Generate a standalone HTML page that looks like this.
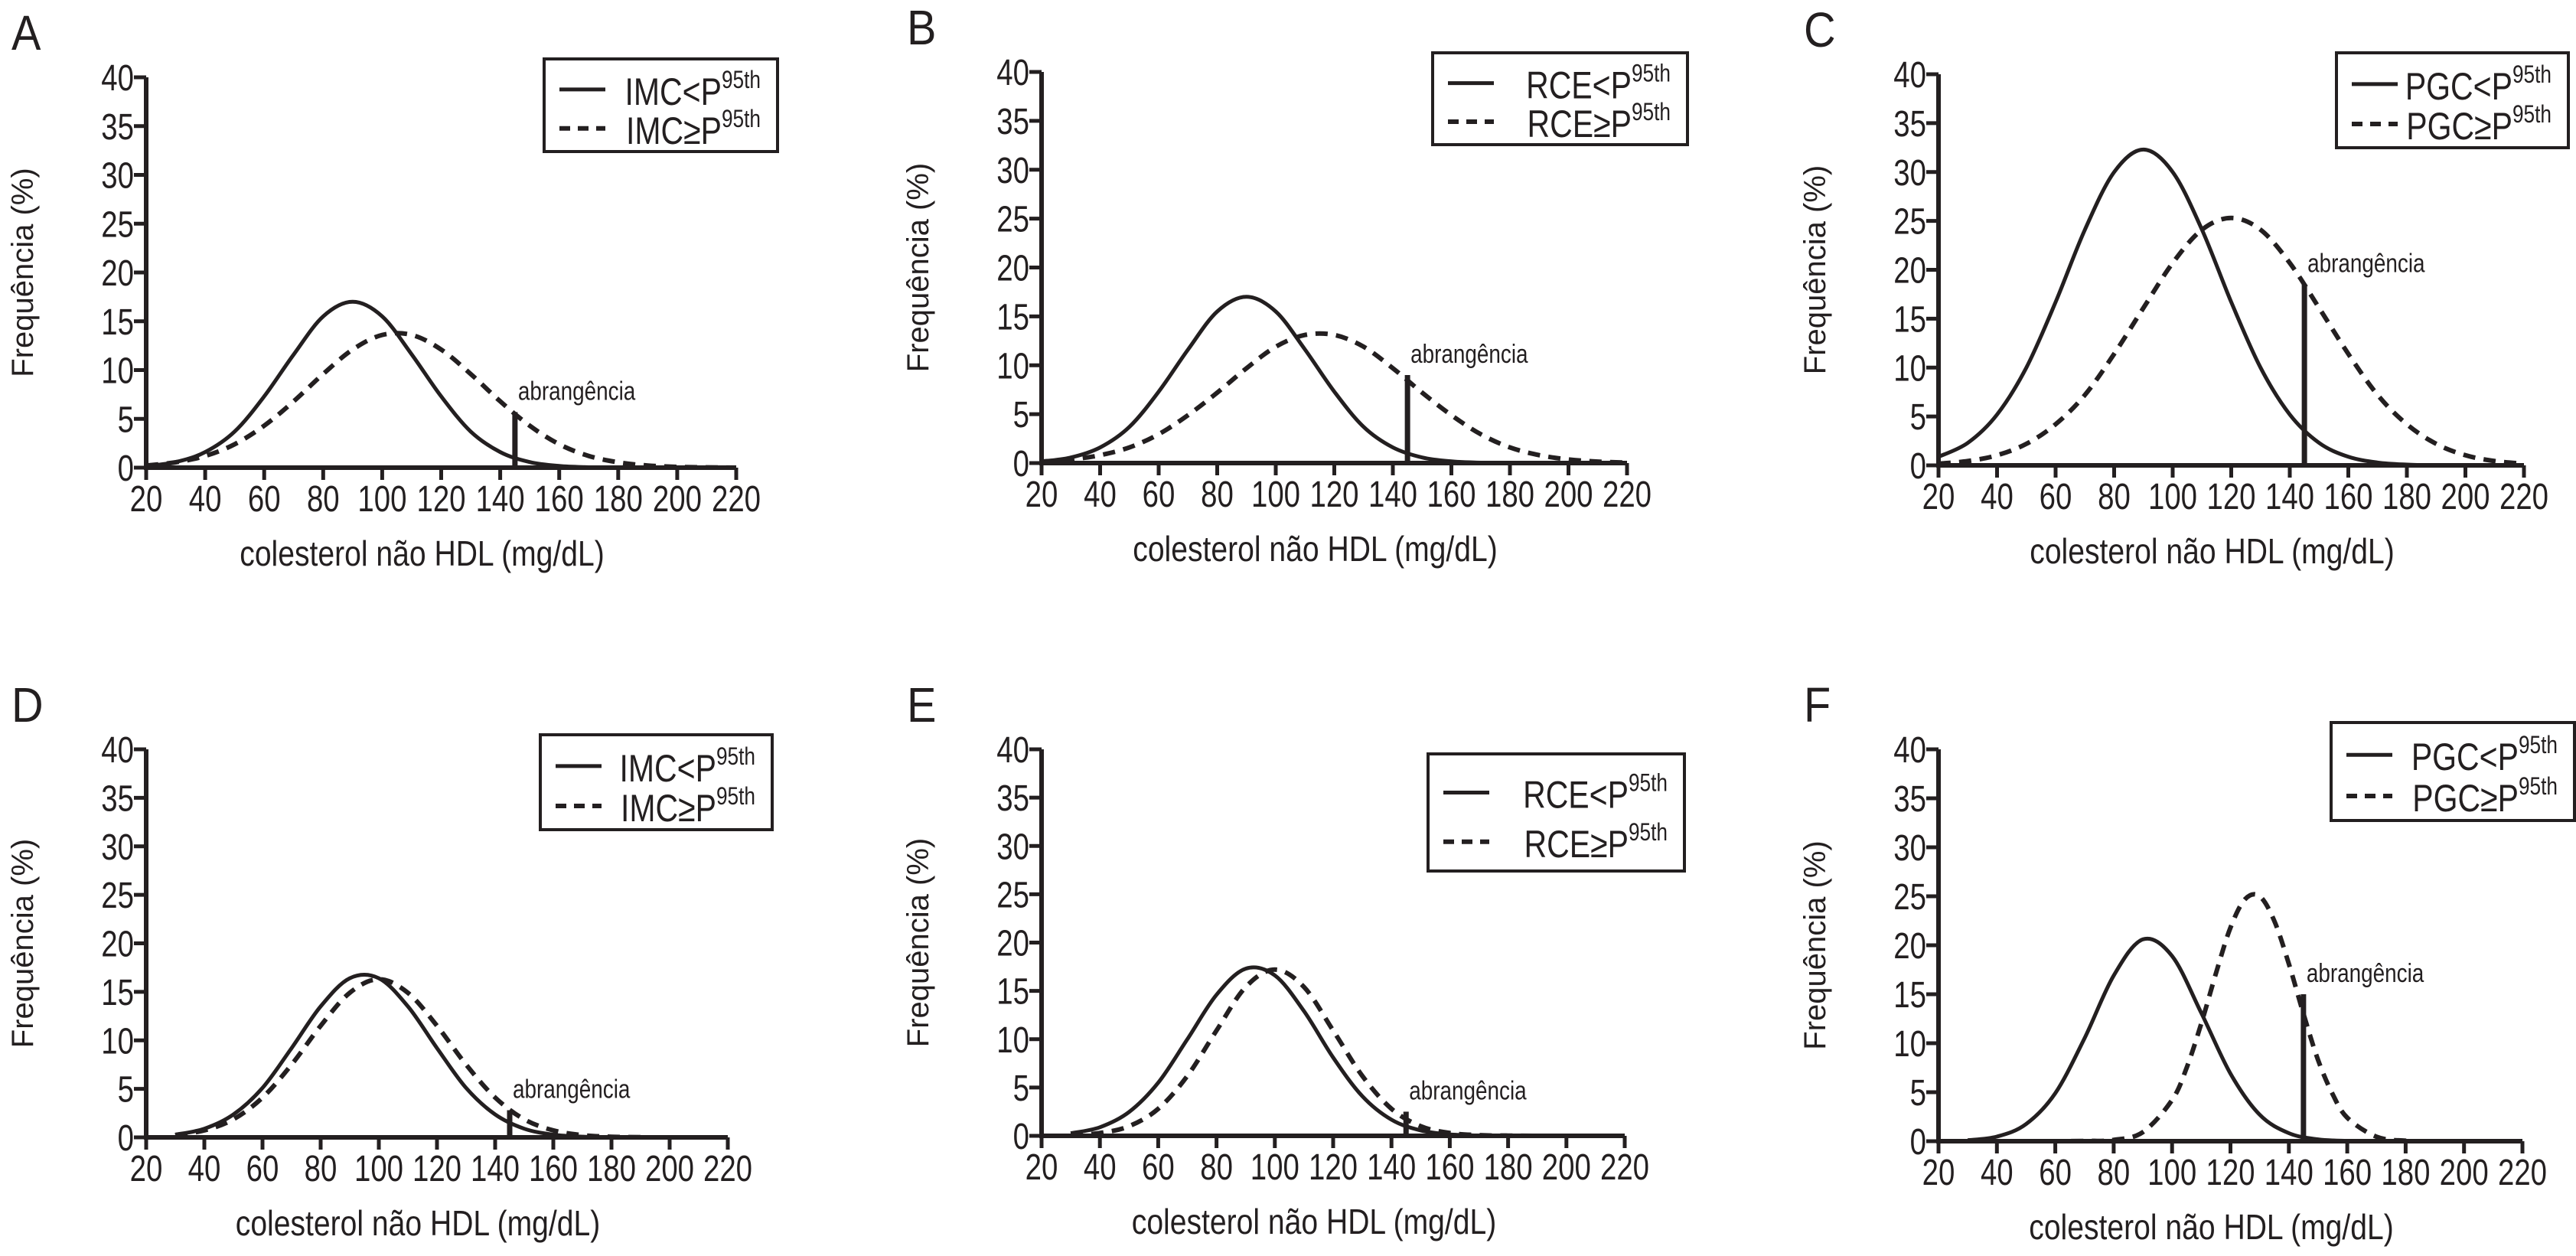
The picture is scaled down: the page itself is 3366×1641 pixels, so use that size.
<!DOCTYPE html>
<html><head><meta charset="utf-8"><style>
html,body{margin:0;padding:0;background:#fff;}
svg{display:block;}
text{font-family:"Liberation Sans",sans-serif;fill:#231f20;}
</style></head><body>
<svg id="fig" width="3366" height="1641" viewBox="0 0 3366 1641" xmlns="http://www.w3.org/2000/svg"></svg>
<script>
// ---- data ----
const xTicks = [20,40,60,80,100,120,140,160,180,200,220];
const yTicks = [0,5,10,15,20,25,30,35,40];
const stdX = [20,30,40,50,60,70,80,90,100,110,120,130,140,150,160,170,180,190,200,210,220];
const d30X = [30,40,50,60,70,80,90,100,110,120,130,140,150,160,170,180,190];

const aSolidY = [0.17,0.57,1.6,3.7,7.3,11.6,15.5,17,15.5,11.6,7.3,3.7,1.6,0.57,0.17,0.04,0,0,0,0,0];
const aDashY  = [0.22,0.55,1.2,2.4,4.3,6.8,9.6,12.1,13.6,13.6,12.1,9.6,6.8,4.3,2.4,1.2,0.55,0.22,0.08,0.03,0];
const bSolidY = [0.17,0.57,1.6,3.7,7.3,11.6,15.5,17,15.5,11.6,7.3,3.7,1.6,0.57,0.17,0.04,0,0,0,0,0];
const bDashY  = [0.15,0.37,0.81,1.6,2.95,4.9,7.2,9.7,11.9,13.1,13.1,11.9,9.7,7.2,4.9,2.95,1.6,0.81,0.37,0.15,0.05];
const cSolidY = [0.88,2.3,5.2,10.0,16.7,24.1,30.0,32.3,30.0,24.1,16.7,10.0,5.2,2.3,0.88,0.29,0.08,0,0,0,0];
const cDashY  = [0.17,0.44,1.03,2.2,4.2,7.2,11.4,16.1,20.7,24.1,25.3,24.1,20.7,16.1,11.4,7.2,4.2,2.2,1.03,0.44,0.17];
const dSolidY = [0.28,0.89,2.36,5.1,9.2,13.5,16.4,16.4,13.5,9.2,5.1,2.36,0.89,0.28,0.07,0.02,0];
const dDashY  = [0.23,0.72,1.86,4.1,7.5,11.5,14.9,16.3,14.9,11.5,7.5,4.1,1.86,0.72,0.23,0.06,0.02];
const eSolidY = [0.26,0.89,2.46,5.5,10.0,14.6,17.3,16.6,12.9,8.1,4.1,1.67,0.56,0.15,0.03,0,0];
const eDashY  = [0.07,0.29,1.0,2.8,6.2,10.9,15.4,17.2,15.4,10.9,6.2,2.8,1.0,0.29,0.07,0.02,0];
const fSolidY = [0.1,0.47,1.75,4.9,10.5,16.9,20.6,18.9,13.1,6.9,2.7,0.82,0.19,0.03,0,0,0];
const fDashX  = [30,50,70,80,90,100,105,110,115,120,125,130,135,140,145,150,155,160,170,180,190,210];
const fDashY  = [0,0,0.02,0.13,0.93,4.2,7.5,12.0,17.1,21.8,24.7,25.0,22.5,18.1,13.0,8.3,4.8,2.4,0.45,0.05,0,0];
const barX = [145,145,145,145,145,145];
const barY = [5.7,9.0,18.5,2.8,2.5,15.0];
const legendNames = [["IMC","IMC"],["RCE","RCE"],["PGC","PGC"],["IMC","IMC"],["RCE","RCE"],["PGC","PGC"]];
const panelLetters = ["A","B","C","D","E","F"];

// ---- layout ----
const panels = [
 {x0:191,x1:962,y0:611,y40:101,leg:[711,77,1016,198],solid:[stdX,aSolidY],dash:[stdX,aDashY]},
 {x0:1361,x1:2126,y0:605,y40:94,leg:[1872,69,2205,189],solid:[stdX,bSolidY],dash:[stdX,bDashY]},
 {x0:2533,x1:3298,y0:608,y40:97,leg:[3053,69,3356,193],solid:[stdX,cSolidY],dash:[stdX,cDashY]},
 {x0:191,x1:951,y0:1486,y40:979,leg:[706,960,1009,1084],solid:[d30X,dSolidY],dash:[d30X,dDashY]},
 {x0:1361,x1:2123,y0:1484,y40:979,leg:[1866,985,2201,1138],solid:[d30X,eSolidY],dash:[d30X,eDashY]},
 {x0:2533,x1:3296,y0:1491,y40:979,leg:[3046,944,3364,1072],solid:[d30X,fSolidY],dash:[fDashX,fDashY]}
];
const svg = document.getElementById('fig');
const NS = 'http://www.w3.org/2000/svg';
function mk(tag, attrs, parent){const e=document.createElementNS(NS,tag);for(const k in attrs)e.setAttribute(k,attrs[k]);(parent||svg).appendChild(e);return e;}
function cond(parent,x,y,size,anchor,str,sxf){
  const t=mk('text',{x:0,y:0,'font-size':size,'text-anchor':anchor,transform:'translate('+x+','+y+') scale('+sxf+',1)'},parent);
  t.textContent=str;
  return t;
}
function smooth(pts){
  let d='M'+pts[0][0].toFixed(1)+','+pts[0][1].toFixed(1);
  for(let i=0;i<pts.length-1;i++){
    const p0=pts[Math.max(0,i-1)],p1=pts[i],p2=pts[i+1],p3=pts[Math.min(pts.length-1,i+2)];
    const c1=[p1[0]+(p2[0]-p0[0])/6,p1[1]+(p2[1]-p0[1])/6];
    const c2=[p2[0]-(p3[0]-p1[0])/6,p2[1]-(p3[1]-p1[1])/6];
    d+=' C'+c1[0].toFixed(1)+','+c1[1].toFixed(1)+' '+c2[0].toFixed(1)+','+c2[1].toFixed(1)+' '+p2[0].toFixed(1)+','+p2[1].toFixed(1);
  }
  return d;
}
panels.forEach((p,i)=>{
  const sx=v=>p.x0+(v-20)/200*(p.x1-p.x0);
  const sy=v=>p.y0-(v/40)*(p.y0-p.y40);
  const g=mk('g',{});
  
  
  const lt=cond(g,p.x0-176,p.y40-36,64,'start',panelLetters[i],0.9);
  
  
  // curves
  const solid=mk('path',{d:smooth(p.solid[0].map((x,k)=>[sx(x),sy(p.solid[1][k])])),fill:'none',stroke:'#231f20','stroke-width':5},g);
  
  
  const dash=mk('path',{d:smooth(p.dash[0].map((x,k)=>[sx(x),sy(p.dash[1][k])])),fill:'none',stroke:'#231f20','stroke-width':6,'stroke-dasharray':'16 11'},g);
  
  
  // bar
  const bar=mk('line',{x1:sx(barX[i]),x2:sx(barX[i]),y1:p.y0,y2:sy(barY[i]),stroke:'#231f20','stroke-width':7},g);
  
  
  const bl=cond(g,sx(barX[i])+4,sy(barY[i])-16,34,'start','abrangência',0.82);
  
  
  // axes
  const ax=mk('line',{x1:p.x0,x2:p.x1,y1:p.y0,y2:p.y0,stroke:'#231f20','stroke-width':6},g);
  
  
  const ay=mk('line',{x1:p.x0,x2:p.x0,y1:p.y0+3,y2:p.y40,stroke:'#231f20','stroke-width':6},g);
  
  
  xTicks.forEach(t=>{
    mk('line',{x1:sx(t),x2:sx(t),y1:p.y0,y2:p.y0+16,stroke:'#231f20','stroke-width':5},g);
    const tx=cond(g,sx(t),p.y0+57,48,'middle',String(t),0.8);
    
    
  });
  yTicks.forEach(t=>{
    mk('line',{x1:p.x0-16,x2:p.x0,y1:sy(t),y2:sy(t),stroke:'#231f20','stroke-width':5},g);
    const ty=cond(g,p.x0-16,sy(t)+17,48,'end',String(t),0.8);
    
    
  });
  const xt=cond(g,(p.x0+p.x1)/2-25,p.y0+128,46,'middle','colesterol não HDL (mg/dL)',0.85);
  
  
  const yc=(p.y0+p.y40)/2;
  const yt=mk('text',{x:p.x0-148,y:yc,'font-size':40,'text-anchor':'middle',transform:'rotate(-90 '+(p.x0-148)+' '+yc+')'},g);
  
  
  yt.textContent='Frequência (%)';
  // legend
  const [lx0,ly0,lx1,ly1]=p.leg;
  const lg=mk('g',{},g);
  
  
  mk('rect',{x:lx0,y:ly0,width:lx1-lx0,height:ly1-ly0,fill:'#fff',stroke:'#231f20','stroke-width':4},lg);
  const r1=ly0+(ly1-ly0)*0.33, r2=ly0+(ly1-ly0)*0.75;
  mk('line',{x1:lx0+20,x2:lx0+80,y1:r1,y2:r1,stroke:'#231f20','stroke-width':5},lg);
  mk('line',{x1:lx0+20,x2:lx0+80,y1:r2,y2:r2,stroke:'#231f20','stroke-width':6,'stroke-dasharray':'14 10'},lg);
  [[r1,'<'],[r2,'≥']].forEach(([ry,sym],k)=>{
    const t=mk('text',{x:0,y:0,'font-size':50,'text-anchor':'end',transform:'translate('+(lx1-22)+','+(ry+20)+') scale(0.82,1)'},lg);
    
    
    t.appendChild(document.createTextNode(legendNames[i][k]+sym+'P'));
    const s=mk('tspan',{dy:-22,'font-size':32},t);
    s.textContent='95th';
  });
});
</script>
</body></html>
